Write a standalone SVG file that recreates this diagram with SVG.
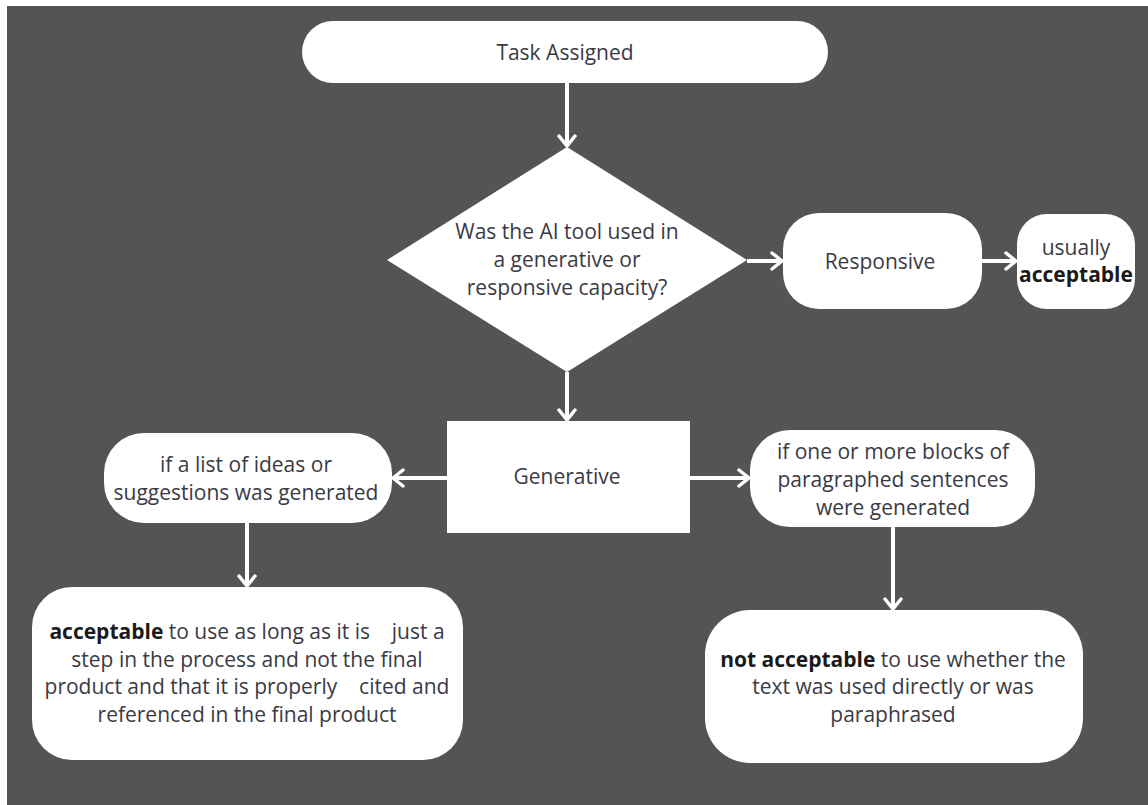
<svg xmlns="http://www.w3.org/2000/svg" width="1148" height="805" viewBox="0 0 1148 805">
  <style>
    .box { fill: #ffffff; }
    .t { font-family: "Open Sans", "Noto Sans", "Liberation Sans", sans-serif; font-size: 21px; fill: #3a3a44; text-anchor: middle; }
    .b { font-weight: bold; fill: #1a1a1a; }
    .conn { stroke: #ffffff; stroke-width: 4; fill: none; marker-end: url(#arrow); }
  </style>
  <defs>
    <marker id="arrow" viewBox="0 0 14 20" refX="12" refY="10" markerWidth="14" markerHeight="20" markerUnits="userSpaceOnUse" orient="auto">
      <path d="M2,2 L12,10 L2,18" stroke="#ffffff" stroke-width="3.5" fill="none" stroke-linecap="round" stroke-linejoin="round"/>
    </marker>
  </defs>
  <rect x="0" y="0" width="1148" height="805" fill="#ffffff"/>
  <rect x="7" y="6" width="1141" height="799" fill="#545454"/>

  <g id="connectors">
    <path class="conn" d="M567,83 L567,146"/>
    <path class="conn" d="M567,372 L567,420"/>
    <path class="conn" d="M747,261 L782,261"/>
    <path class="conn" d="M982,261 L1016,261"/>
    <path class="conn" d="M447,478 L393,478"/>
    <path class="conn" d="M690,478 L749,478"/>
    <path class="conn" d="M247,523 L247,586"/>
    <path class="conn" d="M893,527 L893,609"/>
  </g>

  <g id="task-assigned">
    <rect class="box" x="302" y="21" width="526" height="62" rx="31"/>
    <text class="t" x="565" y="60">Task Assigned</text>
  </g>

  <g id="decision">
    <polygon class="box" points="567,147 747,260 567,372 387,260"/>
    <text class="t" x="567" y="239">Was the AI tool used in</text>
    <text class="t" x="567" y="267">a generative or</text>
    <text class="t" x="567" y="295">responsive capacity?</text>
  </g>

  <g id="responsive">
    <rect class="box" x="783" y="213" width="199" height="96" rx="36"/>
    <text class="t" x="880" y="269">Responsive</text>
  </g>

  <g id="usually-acceptable">
    <rect class="box" x="1017" y="214" width="118" height="95" rx="30"/>
    <text class="t" x="1076" y="255">usually</text>
    <text class="t b" x="1076" y="282">acceptable</text>
  </g>

  <g id="generative">
    <rect class="box" x="447" y="421" width="243" height="112"/>
    <text class="t" x="567" y="484">Generative</text>
  </g>

  <g id="list-of-ideas">
    <rect class="box" x="104" y="433" width="288" height="90" rx="40"/>
    <text class="t" x="246" y="472">if a list of ideas or</text>
    <text class="t" x="246" y="500">suggestions was generated</text>
  </g>

  <g id="paragraphs">
    <rect class="box" x="750" y="430" width="285" height="97" rx="40"/>
    <text class="t" x="893" y="459">if one or more blocks of</text>
    <text class="t" x="893" y="487">paragraphed sentences</text>
    <text class="t" x="893" y="515">were generated</text>
  </g>

  <g id="acceptable-outcome">
    <rect class="box" x="32" y="587" width="431" height="173" rx="40"/>
    <text class="t" x="247" y="639" xml:space="preserve"><tspan class="b">acceptable</tspan> to use as long as it is    just a</text>
    <text class="t" x="247" y="667">step in the process and not the final</text>
    <text class="t" x="247" y="694" xml:space="preserve">product and that it is properly    cited and</text>
    <text class="t" x="247" y="722">referenced in the final product</text>
  </g>

  <g id="not-acceptable-outcome">
    <rect class="box" x="705" y="610" width="378" height="153" rx="45"/>
    <text class="t" x="893" y="667"><tspan class="b">not acceptable</tspan> to use whether the</text>
    <text class="t" x="893" y="694">text was used directly or was</text>
    <text class="t" x="893" y="722">paraphrased</text>
  </g>
</svg>
